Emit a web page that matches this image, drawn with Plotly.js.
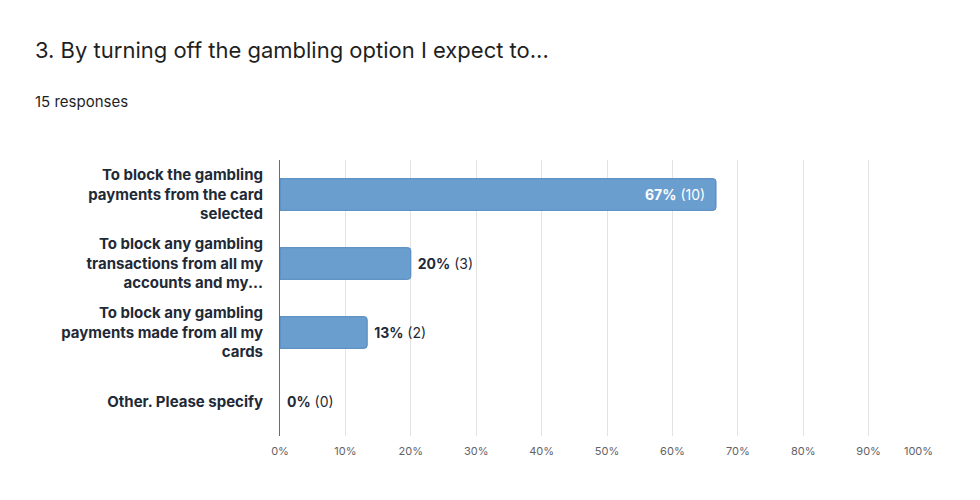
<!DOCTYPE html>
<html>
<head>
<meta charset="utf-8">
<script src="https://cdn.plot.ly/plotly-3.0.1.min.js"></script>
<style>
  body { margin: 0; background: #fff; }
  #chart { width: 980px; height: 500px; }
</style>
</head>
<body>
<div id="chart"></div>
<script>
var categories = [
  'To block the gambling<br>payments from the card<br>selected',
  'To block any gambling<br>transactions from all my<br>accounts and my...',
  'To block any gambling<br>payments made from all my<br>cards',
  'Other. Please specify'
];
var counts = [10, 3, 2, 0];
var totalResponses = 15;
var tickVals = [0, 0.1, 0.2, 0.3, 0.4, 0.5, 0.6, 0.7, 0.8, 0.9, 1];
var tickText = ['0%', '10%', '20%', '30%', '40%', '50%', '60%', '70%', '80%', '90%', '100%'];

var shares = counts.map(function (c) { return c / totalResponses; });
var nb = '\u00a0';
var labels = counts.map(function (c, i) {
  var s = '<b>' + Math.round(shares[i] * 100) + '%</b> (' + c + ')';
  // small pad away from the bar end, like the original
  return i === 0 ? s + nb + nb : nb + s;
});
// the last tick label sits a bit left of its gridline in the original
var tickTextShown = tickText.map(function (t, i) {
  return i === tickText.length - 1 ? t + nb.repeat(10) : t;
});

var trace = {
  type: 'bar',
  orientation: 'h',
  y: categories,
  x: shares,
  text: labels,
  texttemplate: '%{text}',
  textposition: ['inside', 'outside', 'outside', 'outside'],
  insidetextanchor: 'end',
  insidetextfont: { family: 'Inter, sans-serif', size: 14, color: '#ffffff' },
  outsidetextfont: { family: 'Inter, sans-serif', size: 14, color: '#1f2937' },
  cliponaxis: false,
  constraintext: 'none',
  width: 0.46,
  marker: {
    color: '#6a9ecf',
    line: { color: '#4f86bd', width: counts.map(function (c) { return c > 0 ? 1 : 0; }) },
    cornerradius: 3
  },
  hoverinfo: 'none'
};

var layout = {
  width: 980,
  height: 500,
  paper_bgcolor: '#ffffff',
  plot_bgcolor: '#ffffff',
  margin: { l: 280, r: 46, t: 160, b: 64 },
  showlegend: false,
  title: {
    text: '3. By turning off the gambling option I expect to...',
    font: { family: 'Inter, sans-serif', size: 22, color: '#1f1f1f' },
    xref: 'container', yref: 'container',
    x: 35 / 980, xanchor: 'left',
    y: 1 - 50 / 500, yanchor: 'middle'
  },
  annotations: [{
    text: '15 responses',
    xref: 'paper', yref: 'paper',
    x: -245 / 654, y: 1 + 58 / 276,
    xanchor: 'left', yanchor: 'middle',
    xshift: -2,
    showarrow: false,
    font: { family: 'Inter, sans-serif', size: 15, color: '#1f1f1f' }
  }],
  xaxis: {
    range: [0, 1],
    tickvals: tickVals,
    ticktext: tickTextShown,
    tickfont: { family: 'Inter, sans-serif', size: 11, color: '#5f6368' },
    ticklabelstandoff: 7,
    showgrid: true,
    gridcolor: '#e3e3e3',
    gridwidth: 1,
    zeroline: false,
    showline: false,
    ticks: '',
    fixedrange: true
  },
  yaxis: {
    autorange: 'reversed',
    tickfont: { family: 'Inter, sans-serif', size: 15, color: '#1f2a37', weight: 'bold' },
    ticks: '',
    ticklabelstandoff: 13,
    showline: true,
    linecolor: '#6b6b6b',
    linewidth: 1,
    showgrid: false,
    zeroline: false,
    fixedrange: true
  },
  bargap: 0.54
};

Plotly.newPlot('chart', [trace], layout, { displayModeBar: false, staticPlot: true });
</script>
</body>
</html>
